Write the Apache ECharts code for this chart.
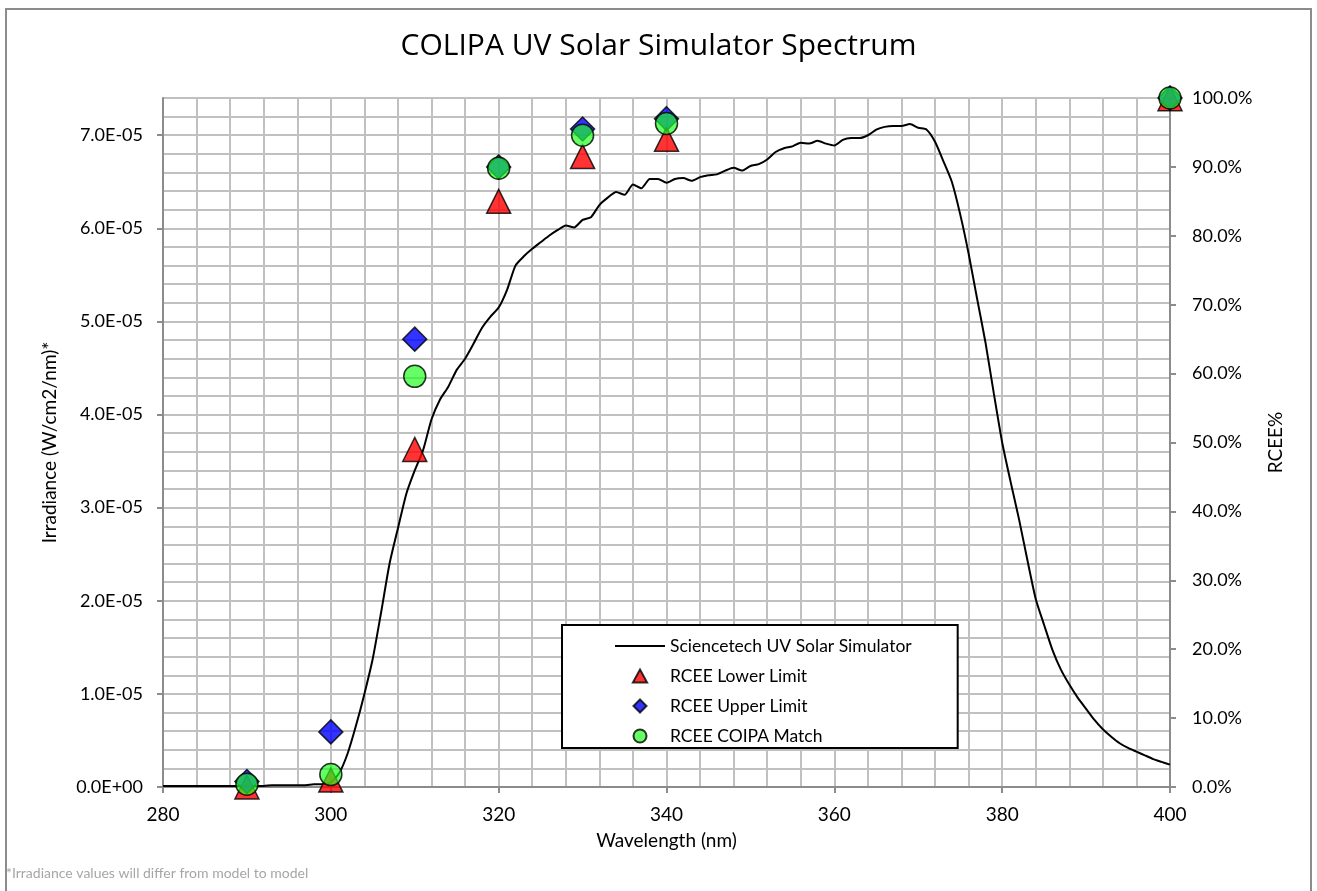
<!DOCTYPE html>
<html>
<head>
<meta charset="utf-8">
<title>COLIPA UV Solar Simulator Spectrum</title>
<script src="https://cdn.jsdelivr.net/npm/echarts@6/dist/echarts.min.js"></script>
<style>
  html, body { margin: 0; padding: 0; background: #fff; }
  #chart { width: 1317px; height: 891px; }
</style>
</head>
<body>
<div id="chart"></div>
<script>
// spectrum: wavelength (nm) and irradiance (W/cm2/nm)
const wavelengths = [];
for (let w = 280; w <= 400; w++) wavelengths.push(w);

const irradiance = [
  1.0e-7, 1.0e-7, 1.0e-7, 1.0e-7, 1.0e-7, 1.0e-7, 1.0e-7, 1.0e-7, 1.0e-7, 1.0e-7,   // 280-289
  1.0e-7, 1.0e-7, 1.0e-7, 2.0e-7, 2.0e-7, 2.0e-7, 2.0e-7, 2.0e-7, 3.0e-7, 3.0e-7,   // 290-299
  5.0e-7, 1.5e-6, 3.6e-6, 6.6e-6, 1.00e-5, 1.38e-5, 1.88e-5, 2.40e-5, 2.78e-5, 3.15e-5, // 300-309
  3.40e-5, 3.62e-5, 3.95e-5, 4.16e-5, 4.30e-5, 4.48e-5, 4.60e-5, 4.76e-5, 4.93e-5, 5.05e-5, // 310-319
  5.15e-5, 5.34e-5, 5.60e-5, 5.70e-5, 5.78e-5, 5.85e-5, 5.92e-5, 5.98e-5, 6.03e-5, 6.01e-5, // 320-329
  6.09e-5, 6.12e-5, 6.25e-5, 6.33e-5, 6.39e-5, 6.36e-5, 6.47e-5, 6.43e-5, 6.53e-5, 6.53e-5, // 330-339
  6.49e-5, 6.53e-5, 6.54e-5, 6.51e-5, 6.55e-5, 6.57e-5, 6.58e-5, 6.62e-5, 6.65e-5, 6.62e-5, // 340-349
  6.67e-5, 6.69e-5, 6.74e-5, 6.82e-5, 6.86e-5, 6.88e-5, 6.92e-5, 6.91e-5, 6.94e-5, 6.91e-5, // 350-359
  6.89e-5, 6.95e-5, 6.97e-5, 6.97e-5, 7.00e-5, 7.06e-5, 7.09e-5, 7.10e-5, 7.10e-5, 7.12e-5, // 360-369
  7.08e-5, 7.06e-5, 6.93e-5, 6.72e-5, 6.50e-5, 6.15e-5, 5.73e-5, 5.25e-5, 4.78e-5, 4.23e-5, // 370-379
  3.70e-5, 3.28e-5, 2.88e-5, 2.44e-5, 2.02e-5, 1.74e-5, 1.47e-5, 1.26e-5, 1.10e-5, 9.6e-6,  // 380-389
  8.4e-6, 7.2e-6, 6.2e-6, 5.4e-6, 4.7e-6, 4.2e-6, 3.8e-6, 3.4e-6, 3.0e-6, 2.7e-6,     // 390-399
  2.4e-6                                                                                // 400
];

// RCEE points (right axis, %)
const rceeWl    = [290, 300, 310, 320, 330, 340, 400];
const rceeLower = [0.0, 1.0, 49.0, 85.0, 91.5, 94.0, 99.9];
const rceeUpper = [0.8, 8.0, 65.0, 90.0, 95.5, 97.0, 100.0];
const rceeMatch = [0.4, 1.8, 59.6, 89.8, 94.6, 96.3, 100.0];

// tick labels
const xTicks = [280, 300, 320, 340, 360, 380, 400];
const leftTicks = [0, 1e-5, 2e-5, 3e-5, 4e-5, 5e-5, 6e-5, 7e-5];
const rightTicks = [0, 10, 20, 30, 40, 50, 60, 70, 80, 90, 100];

const FONT = 'Lato, "Open Sans", sans-serif';
const AXIS_GRAY = '#8c8c8c';
const GRID_GRAY = '#c0c0c0';
const GREEN = 'rgba(30,255,30,0.85)';

function sciLabel(v) {
  const s = v.toExponential(1).split('e');
  const exp = parseInt(s[1], 10);
  const sign = exp < 0 ? '-' : '+';
  return s[0] + 'E' + sign + String(Math.abs(exp)).padStart(2, '0');
}

const pairs = (xs, ys) => xs.map((x, i) => [x, ys[i]]);

const chart = echarts.init(document.getElementById('chart'));

// hidden axes that only carry the fine grid
const gridAxisCommon = {
  type: 'value',
  axisLine: { show: false },
  axisTick: { show: false },
  axisLabel: { show: false },
  splitLine: { show: true, lineStyle: { color: GRID_GRAY, width: 2 } }
};

const option = {
  animation: false,
  backgroundColor: '#fff',
  title: [
    {
      text: 'COLIPA UV Solar Simulator Spectrum',
      left: 'center',
      top: 31,
      padding: 0,
      textStyle: { fontFamily: '"Open Sans", Lato, sans-serif', fontSize: 30, fontWeight: 'normal', color: '#000' }
    },
    {
      text: '*Irradiance values will differ from model to model',
      left: 6,
      top: 866,
      padding: 0,
      textStyle: { fontFamily: FONT, fontSize: 14, fontWeight: 'normal', color: '#a6a6a6' }
    }
  ],
  graphic: [
    {
      type: 'rect',
      shape: { x: 6, y: 9, width: 1305, height: 890 },
      style: { fill: 'none', stroke: AXIS_GRAY, lineWidth: 2 },
      silent: true
    }
  ],
  legend: {
    orient: 'vertical',
    left: 562,
    top: 625,
    padding: [12, 46, 3, 53],
    itemWidth: 50,
    itemHeight: 13,
    itemGap: 12,
    backgroundColor: '#fff',
    borderColor: '#000',
    borderWidth: 2,
    textStyle: { fontFamily: FONT, fontSize: 17.5, lineHeight: 16, color: '#000' },
    data: [
      { name: 'Sciencetech UV Solar Simulator', icon: 'path://M0,0 H50 V2 H0 Z' },
      { name: 'RCEE Lower Limit', icon: 'path://M6,0 L12,11 L0,11 Z' },
      { name: 'RCEE Upper Limit', icon: 'path://M6,0 L12,6 L6,12 L0,6 Z' },
      { name: 'RCEE COIPA Match', icon: 'circle' }
    ]
  },
  grid: { left: 163, top: 98, width: 1007, height: 689 },
  xAxis: [
    Object.assign({}, gridAxisCommon, { min: 280, max: 400, interval: 4, position: 'top' }),
    {
      type: 'value',
      position: 'bottom',
      min: 280,
      max: 400,
      interval: 20,
      z: 1,
      name: 'Wavelength (nm)',
      nameLocation: 'middle',
      nameGap: 44,
      nameTextStyle: { fontFamily: FONT, fontSize: 19, color: '#000' },
      axisLine: { lineStyle: { color: AXIS_GRAY, width: 2 } },
      axisTick: { show: true, length: 6, customValues: xTicks, lineStyle: { color: AXIS_GRAY, width: 2 } },
      axisLabel: { customValues: xTicks, margin: 18, fontFamily: FONT, fontSize: 19, color: '#000' },
      splitLine: { show: false }
    }
  ],
  yAxis: [
    Object.assign({}, gridAxisCommon, { min: 0, max: 7.4e-5, interval: 2e-6, position: 'left' }),
    {
      type: 'value',
      position: 'left',
      min: 0,
      max: 7.4e-5,
      z: 1,
      name: 'Irradiance (W/cm2/nm)*',
      nameLocation: 'middle',
      nameGap: 104,
      nameTextStyle: { fontFamily: FONT, fontSize: 19, color: '#000' },
      axisLine: { show: true, lineStyle: { color: AXIS_GRAY, width: 2 } },
      axisTick: { show: true, length: 6, customValues: leftTicks, lineStyle: { color: AXIS_GRAY, width: 2 } },
      axisLabel: {
        customValues: leftTicks,
        margin: 20,
        fontFamily: FONT,
        fontSize: 18,
        color: '#000',
        formatter: sciLabel
      },
      splitLine: { show: false }
    },
    {
      type: 'value',
      position: 'right',
      min: 0,
      max: 100,
      interval: 10,
      z: 1,
      name: 'RCEE%',
      nameLocation: 'middle',
      nameGap: 96,
      nameRotate: 90,
      nameTextStyle: { fontFamily: FONT, fontSize: 19, color: '#000' },
      axisLine: { show: true, lineStyle: { color: AXIS_GRAY, width: 2 } },
      axisTick: { show: true, length: 6, customValues: rightTicks, lineStyle: { color: AXIS_GRAY, width: 2 } },
      axisLabel: {
        customValues: rightTicks,
        margin: 22,
        fontFamily: FONT,
        fontSize: 18,
        color: '#000',
        formatter: v => v.toFixed(1) + '%'
      },
      splitLine: { show: false }
    }
  ],
  series: [
    {
      name: 'Sciencetech UV Solar Simulator',
      type: 'line',
      xAxisIndex: 1,
      yAxisIndex: 1,
      symbol: 'none',
      smooth: 0.2,
      lineStyle: { color: '#000', width: 2 },
      itemStyle: { color: '#000' },
      data: pairs(wavelengths, irradiance),
      z: 3
    },
    {
      name: 'RCEE Lower Limit',
      type: 'scatter',
      xAxisIndex: 1,
      yAxisIndex: 2,
      symbol: 'triangle',
      symbolSize: 24,
      itemStyle: { color: '#ff0000', borderColor: '#000', borderWidth: 1.5 },
      data: pairs(rceeWl, rceeLower),
      z: 4
    },
    {
      name: 'RCEE Upper Limit',
      type: 'scatter',
      xAxisIndex: 1,
      yAxisIndex: 2,
      symbol: 'diamond',
      symbolSize: 24,
      itemStyle: { color: '#0000ff', borderColor: '#000', borderWidth: 1.5 },
      data: pairs(rceeWl, rceeUpper),
      z: 5
    },
    {
      name: 'RCEE COIPA Match',
      type: 'scatter',
      xAxisIndex: 1,
      yAxisIndex: 2,
      symbol: 'circle',
      symbolSize: 22,
      itemStyle: { color: GREEN, borderColor: '#000', borderWidth: 1.5 },
      data: pairs(rceeWl, rceeMatch),
      z: 6
    }
  ]
};

chart.setOption(option);
</script>
</body>
</html>
